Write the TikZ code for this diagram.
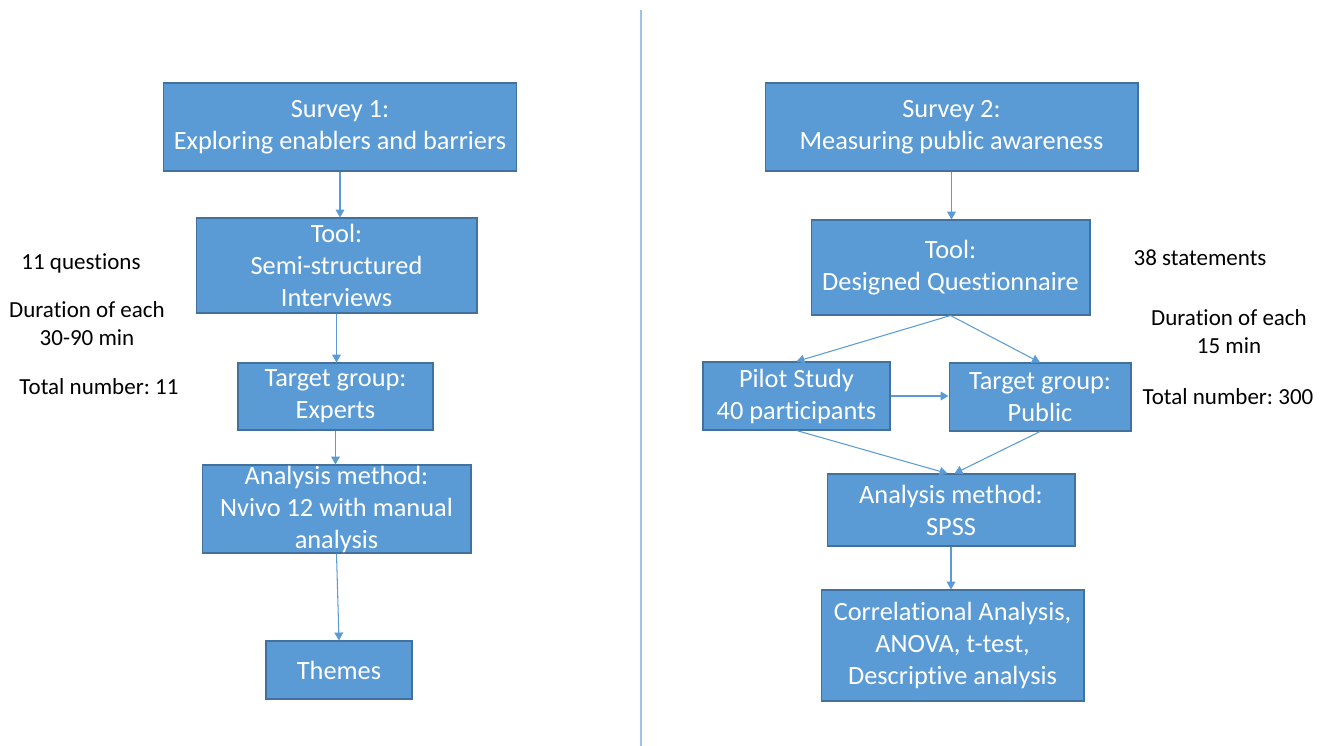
\documentclass[tikz,border=0pt]{standalone}
\usepackage{fontspec}
\setmainfont{Carlito}[Ligatures={NoCommon,NoContextual}, Contextuals=NoAlternate]
\frenchspacing
\usetikzlibrary{arrows.meta}
\definecolor{boxblue}{HTML}{5B9BD5}
\definecolor{boxedge}{HTML}{41719C}
\definecolor{divblue}{HTML}{9DC3E6}
\newcommand{\tisplit}{t\kern0pt i}
\tikzset{
  box/.style={draw=boxedge, fill=boxblue, line width=0.6pt, text=white, align=center, inner sep=0pt,
    font=\fontsize{15}{18.2}\selectfont},
  note/.style={align=center, inner sep=0pt, font=\fontsize{13.1}{16}\selectfont},
  link/.style={->, draw=boxblue, line width=0.6pt}
}
\begin{document}
\begin{tikzpicture}[x=0.02cm, y=-0.02cm, >={Triangle[length=4.5pt,width=5pt]}]
 \useasboundingbox (0,0) rectangle (1329,746);
 % divider
 \coordinate (divtop) at (641,10);
 \coordinate (divbot) at (641,746);
 \draw[divblue, line width=0.8pt] (divtop) -- (divbot);
 % survey 1
 \node[box, minimum width=7.08cm, minimum height=1.76cm] (s1) at (340,127) {Survey 1:\\Exploring enablers and barriers};
 \node[box, minimum width=5.62cm, minimum height=1.90cm] (tool1) at (336.5,265.5) {Tool:\\Semi-structured\\Interviews};
 \node[box, minimum width=3.90cm, minimum height=1.34cm] (target1) at (335.5,396.5) {Target group:\\Experts};
 \node[box, minimum width=5.38cm, minimum height=1.76cm] (ana1) at (336.5,509) {Analysis method:\\Nvivo 12 with manual\\analysis};
 \node[box, minimum width=2.92cm, minimum height=1.16cm] (themes) at (339,670) {Themes};
 \node[note] (q1) at (81,263) {11 questions};
 \node[note] (dur1) at (87,324) {Dura\tisplit on of each\\30-90 min};
 \node[note] (tot1) at (99,387) {Total number: 11};
 \draw[link] (s1.south) -- (s1.south |- tool1.north);
 \draw[link] (tool1.south) -- (tool1.south |- target1.north);
 \draw[link] (target1.south) -- (target1.south |- ana1.north);
 \draw[link] (ana1.south) -- (themes.north);
 % survey 2
 \node[box, minimum width=7.46cm, minimum height=1.76cm] (s2) at (951.5,127) {Survey 2:\\Measuring public awareness};
 \node[box, minimum width=5.58cm, minimum height=1.90cm] (tool2) at (950.5,267.5) {Tool:\\Designed Questionnaire};
 \node[box, minimum width=3.74cm, minimum height=1.36cm] (pilot) at (796.5,396) {Pilot Study\\40 participants};
 \node[box, minimum width=3.64cm, minimum height=1.36cm] (target2) at (1040,397) {Target group:\\Public};
 \node[box, minimum width=4.96cm, minimum height=1.44cm] (ana2) at (951,510) {Analysis method:\\SPSS};
 \node[box, minimum width=5.26cm, minimum height=2.22cm] (tests) at (952.5,645.5) {Correla\tisplit onal Analysis,\\ANOVA, t-test,\\Descrip\tisplit ve analysis};
 \node[note] (q2) at (1200,258) {38 statements};
 \node[note] (dur2) at (1229,332) {Dura\tisplit on of each\\15 min};
 \node[note] (tot2) at (1228,397) {Total number: 300};
 \draw[link] (s2.south) -- (s2.south |- tool2.north);
 \draw[link] (tool2.south) -- (pilot.north);
 \draw[link] (tool2.south) -- (target2.north);
 \draw[link] (pilot.east) -- (pilot.east -| target2.west);
 \draw[link] (pilot.south) -- ([xshift=-2pt]ana2.north);
 \draw[link] (target2.south) -- ([xshift=2pt]ana2.north);
 \draw[link] (ana2.south) -- (ana2.south |- tests.north);
\end{tikzpicture}
\end{document}
